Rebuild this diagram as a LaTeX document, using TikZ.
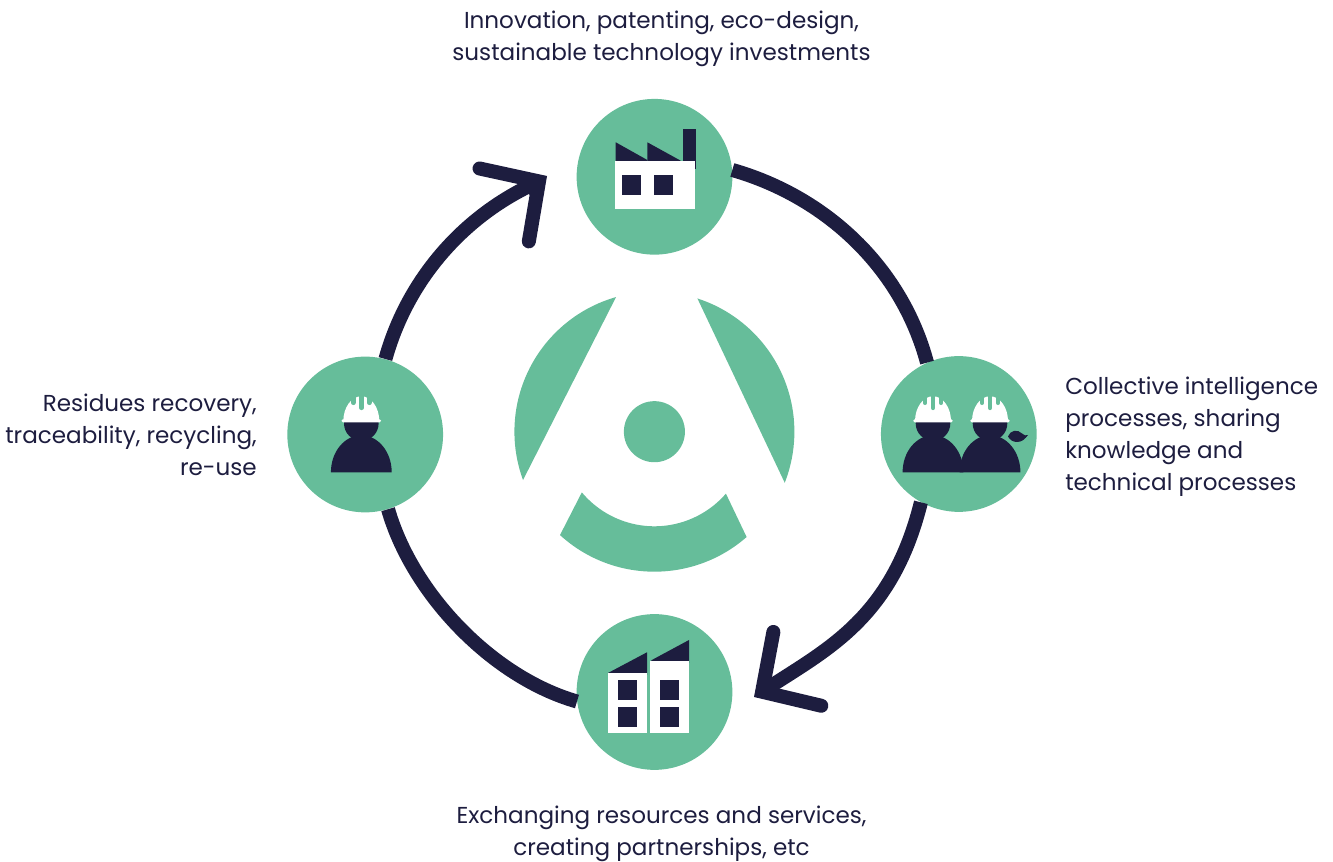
\documentclass[tikz,border=0pt]{standalone}
\usepackage{fontspec}
\setmainfont{Poppins}
\usetikzlibrary{arrows.meta}
\definecolor{ecogreen}{HTML}{66BD9A}
\definecolor{navy}{HTML}{1D1D3F}
\tikzset{
  station/.style={circle,fill=ecogreen,inner sep=0pt,minimum size=116.8pt},
  ringline/.style={draw=navy,line width=10.5pt,line cap=butt,
    -{Straight Barb[length=31.5pt,width=66pt,line cap=round,line join=miter]}},
  ringplain/.style={draw=navy,line width=10.5pt},
  caption/.style={text=navy,inner sep=0pt,font=\fontsize{17.3}{24}\selectfont},
  hardhat/.pic={
    \fill[navy] (-30.4,0) arc[start angle=180,end angle=0,x radius=30.4,y radius=37] -- cycle;
    \fill[navy] (0,48.8) circle[radius=17.3];
    \fill[white] (-18,51) arc[start angle=180,end angle=0,x radius=18,y radius=25] -- cycle;
    \fill[white,rounded corners=1pt] (-19.7,50) rectangle (19.7,53);
    \draw[ecogreen,line width=3.4pt,line cap=round] (-8,69.5)--(-8,78) (8,69.5)--(8,78);
    \draw[ecogreen,line width=3.5pt,line cap=round] (0,64.5)--(0,78);
  }
}
\begin{document}
\begin{tikzpicture}[x=0.75pt,y=0.75pt]
\useasboundingbox (0,0) rectangle (1333,862);
% stations
\node[station] (factory) at (654.5,685.2) {};
\node[station] (workers) at (958.8,428) {};
\node[station] (buildings) at (654.5,170) {};
\node[station] (worker) at (365.2,427.5) {};
\coordinate (tipTop) at (547,686);
\coordinate (neckTop) at (526.3,672);
\coordinate (tipBottom) at (754,165);
% ring
\draw[ringplain] (factory.5) .. controls +(-16:98) and +(105:98) .. (workers.114);
\draw[ringline] (workers.241) .. controls +(256:118) and +(33:90) .. (tipBottom);
\draw[ringplain] (buildings.187) .. controls +(164:88) and +(286:88) .. (worker.287);
\draw[ringplain] (worker.75) arc[start angle=164.5,end angle=116,radius=274];
\draw[ringline] (neckTop) -- (tipTop);
% centre
\node[circle,fill=ecogreen,inner sep=0pt,minimum size=45.8pt] (hub) at (654.4,430.3) {};
\fill[ecogreen] ([shift={(hub.center)}]105.9:140) arc[start angle=105.9,end angle=200.2,radius=140] -- cycle;
\fill[ecogreen] ([shift={(hub.center)}]72.1:140) arc[start angle=72.1,end angle=-21.4,radius=140] -- cycle;
\fill[ecogreen] ([shift={(hub.center)}]227.6:140) arc[start angle=227.6,end angle=311.2,radius=140]
  -- ([shift={(hub.center)}]319.1:94.6) arc[start angle=319.1,end angle=219.9,radius=94.6] -- cycle;
% factory
\fill[navy] (683,693) rectangle (696,733);
\fill[navy] (615.7,719.7) -- (647.3,702) -- (647.3,699) -- (615.7,699) -- cycle;
\fill[navy] (647.3,719.7) -- (680.7,701.3) -- (680.7,699) -- (647.3,699) -- cycle;
\fill[white] (615,653) rectangle (695,701.3);
\foreach \x in {622,654} \fill[navy] (\x,667) rectangle (\x+19,687);
% buildings
\fill[navy] (608,187) -- (608,189) -- (647,209.7) -- (647,187) -- cycle;
\fill[navy] (651.3,199) -- (651.3,201.7) -- (689,222) -- (689,199) -- cycle;
\fill[white] (608,129) rectangle (647,189);
\fill[white] (650,129) rectangle (689,201.3);
\foreach \x in {618,660} \foreach \y in {135,162} \fill[navy] (\x,\y) rectangle (\x+19,\y+20);
% people
\pic at (361.3,389.7) {hardhat};
\pic at (933,389.7) {hardhat};
\pic at (990,389.7) {hardhat};
\fill[navy] (1008,425.5) .. controls (1010,432) and (1018,433) .. (1022,428.5)
  .. controls (1024,426.5) and (1026,426) .. (1028,427)
  .. controls (1025,423) and (1022,420) .. (1017,420) .. controls (1013,420) and (1010,422) .. (1008,425.5) -- cycle;
% captions
\node[caption,align=center] (capTop) at (661.5,823) {Innovation, patenting, eco-design,\\sustainable technology investments};
\node[caption,align=left,anchor=west] (capRight) at (1065,425) {Collective intelligence\\processes, sharing\\knowledge and\\technical processes};
\node[caption,align=center] (capBottom) at (661.5,28) {Exchanging resources and services,\\creating partnerships, etc};
\node[caption,align=right,anchor=east] (capLeft) at (257,427) {Residues recovery,\\traceability, recycling,\\re-use};
\end{tikzpicture}
\end{document}
